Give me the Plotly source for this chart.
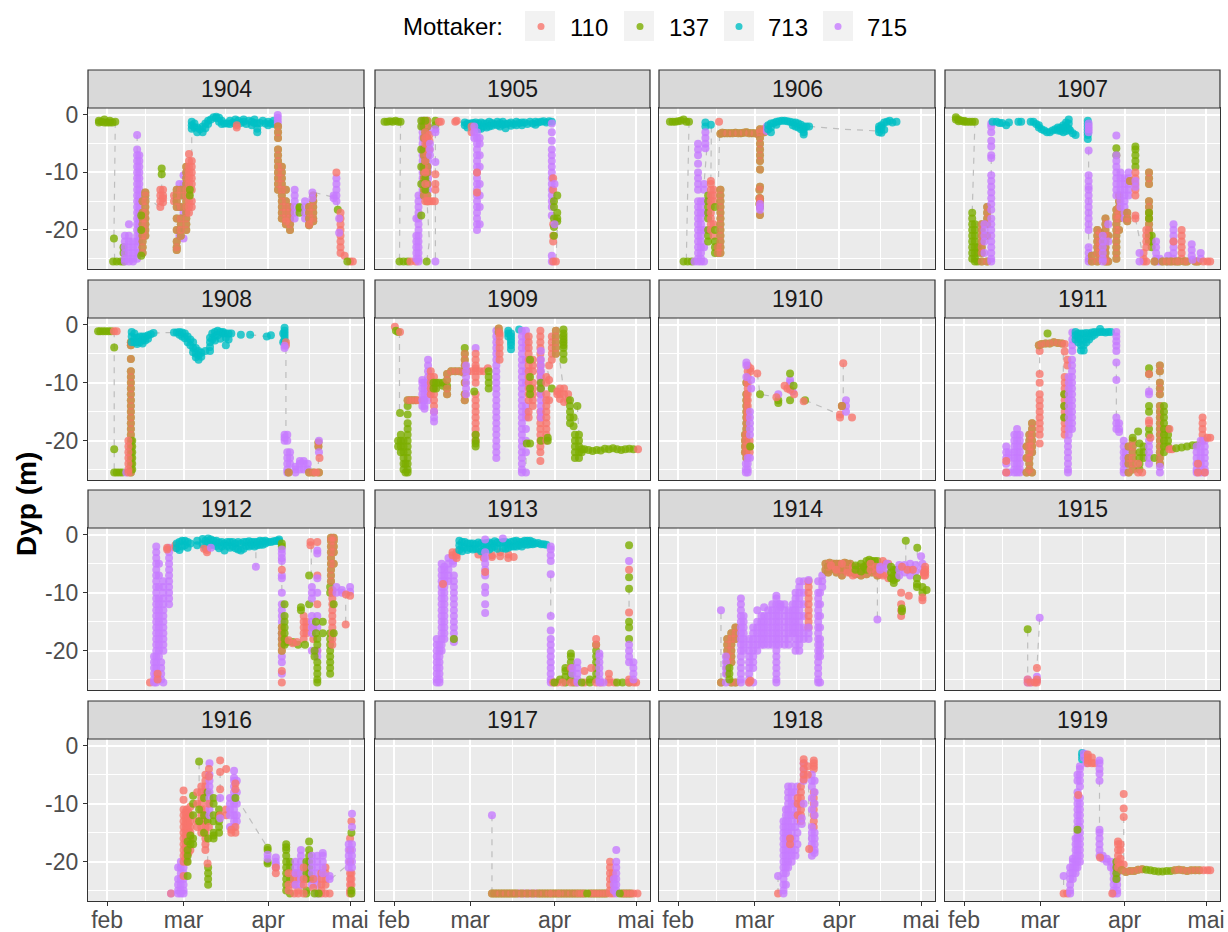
import plotly.graph_objects as go

YEARS = list(range(1904, 1920))
RECEIVERS = ["110", "137", "713", "715"]
COLORS = {"110": "#F8766D", "137": "#7CAE00", "713": "#00BFC4", "715": "#C77CFF"}
MONTH_TICKS = [0, 28, 59, 89]
MONTH_LABELS = ["feb", "mar", "apr", "mai"]
MONTH_MINOR = [14, 43.5, 74]
DEPTH_TICKS = [0, -10, -20]
DEPTH_MINOR = [-5, -15, -25]

# (receiver(s), [(day after 1 Feb, [depths]), ...])
P1904 = [
 ("137", [(-3,[-1.0,-1.3]),(-2,[-1.2]),(-1,[-0.8,-1.3]),(0,[-1.3]),(1,[-1.0,-1.3]),(2,[-1.3]),(3,[-1.2]),(2.5,[-21.5]),(2.2,[-25.5]),(3.5,[-25.5]),(5,[-25.5]),(6,[-23,-24,-25.5])]),
 ("715", [(6.5,[-21,-22,-23,-24,-25,-25.5]),(8,[-19,-21,-22,-23,-24,-25,-25.5]),(9.5,[-22,-23,-24,-25,-25.5])]),
 ("715", [(11,[-3.5,-6,-7,-8,-9,-10,-11,-12,-13,-14,-15,-16,-17,-18,-19,-20,-21,-22,-23,-24,-25]),(11.8,[-7,-8,-9,-10,-11,-12,-13,-14,-15,-16,-17,-18,-19,-20,-21,-22,-24])]),
 ("137+110", [(13,[-15,-17,-18,-19,-20,-21,-22,-23,-24]),(14,[-13.5,-14,-15,-16,-17,-18,-19,-20,-21])]),
 ("137", [(12.5,[-17.5,-20,-24.5])]),
 ("137", [(20,[-9.3,-10.3])]),
 ("110", [(19.5,[-13,-14,-15,-16]),(20.5,[-13,-14,-14.5,-15.2]),(24.5,[-14,-15])]),
 ("715", [(26.5,[-12,-13,-16,-20,-21]),(28,[-10.5,-12,-14,-17,-21.5])]),
 ("137+110", [(25.5,[-13,-14,-15,-16,-18,-20,-22,-23,-23.5]),(27,[-13,-14,-16,-18,-19,-20,-21]),(29,[-9,-10,-11,-12,-13,-14,-15,-16,-17,-18,-19,-20])]),
 ("110", [(30,[-6.8,-8,-9,-10,-11,-12,-13,-14,-15,-16,-17]),(31,[-8,-9,-10,-11,-12,-13,-15,-16])]),
 ("137", [(30.3,[-13,-14])]),
 ("713", [(31,[-1.2,-1.8,-2.4]),(32,[-1.5,-2.2]),(33,[-2.2,-3.0]),(34,[-2.5]),(35,[-2,-3]),(36,[-1.5,-2.3]),(37,[-1,-1.6]),(38,[-0.8]),(39,[-0.4]),(40,[-0.3,-0.6]),(41,[-0.5,-1.2]),(42,[-1,-1.6]),(43,[-1.5]),(44,[-1.5]),(45,[-1.6,-1.0]),(46,[-1.3]),(47,[-0.8,-1.5]),(48,[-1]),(49,[-1.4]),(50,[-1.2,-0.8]),(51,[-1.6]),(52,[-1]),(53,[-1.2,-1.8]),(54,[-0.8,-1.4]),(55,[-1.5,-2.4,-3]),(56,[-1.4]),(57,[-1]),(58,[-1.5]),(59,[-1.2,-1.8]),(60,[-1.5]),(61,[-1.0,-1.6])]),
 ("110", [(47.5,[-1.8,-2.2])]),
 ("715", [(62.5,[0,-0.5,-1,-1.5])]),
 ("137+110", [(62.6,[-2,-3,-4,-6,-7,-8,-9,-10,-11,-12,-13]),(64,[-9,-10,-11,-12,-13,-14,-15,-16,-17,-18]),(65.5,[-13,-15,-16,-17,-18,-18.5,-19]),(67,[-16,-17,-18,-19,-20])]),
 ("715", [(68.7,[-13,-14,-15,-16,-17,-18])]),
 ("137", [(70.5,[-16,-17,-16.2])]),
 ("715", [(72.5,[-15,-16,-17,-18])]),
 ("137+110", [(74,[-16,-17,-18,-19,-19.2]),(75.5,[-14,-15,-16,-17,-18,-18.5])]),
 ("715", [(75.2,[-13.5,-14.5])]),
 ("715", [(83,[-14,-14.5]),(84,[-11,-12,-13,-14,-15])]),
 ("110", [(84,[-10])]),
 ("137", [(84.5,[-16.5])]),
 ("110", [(85.5,[-17,-18,-19,-20,-21,-22,-23,-24])]),
 ("715", [(85,[-18,-20.5])]),
 ("110", [(87,[-24.5]),(89,[-25.5]),(90,[-25.5])]),
 ("137", [(88,[-25.5])]),
]
L1904 = [(3,-1.2),(2.5,-21.5),(2.8,-25.5),None,(11,-3.5),(11,-8),None,(14,-14),(19,-16),None,(20,-10),(20,-13),None,(31,-7),(31,-2),None,(76,-13.5),(82,-14.2),None,(84.5,-16),(84,-14)]

P1905 = [
 ("137", [(-3.5,[-1.2]),(-2.5,[-1.2]),(-1.5,[-1.1]),(-0.5,[-1.2]),(0.5,[-1.0]),(1.5,[-1.2]),(2.4,[-1.2]),(2,[-25.5]),(3.5,[-25.5]),(5,[-25.5]),(12,[-25.5])]),
 ("110", [(6,[-25.5]),(8,[-25.5])]),
 ("715", [(9,[-14,-15,-16,-17,-18,-19,-20,-21,-22,-23,-24,-25,-25.5]),(8.2,[-18,-21,-22,-23,-24,-25])]),
 ("715", [(10.5,[-1,-2,-3,-4,-5,-6,-7,-8,-9,-10,-11,-12,-13,-14]),(12.5,[-2,-3,-5,-6,-7,-8,-9,-10,-11,-12,-13])]),
 ("137+110", [(11,[-1,-2,-4,-6,-7,-9,-10,-11,-13,-14]),(12.2,[-1,-2,-4,-5,-7,-9,-10,-12,-14,-15])]),
 ("137", [(10,[-1,-2,-6,-9,-12,-17.5]),(11.5,[-1,-3,-8,-11,-13])]),
 ("110", [(11.5,[-3,-4,-5,-8,-10,-12,-15]),(13,[-3.5,-4.5,-6,-15]),(14,[-15]),(12.5,[-15])]),
 ("715", [(13.2,[-5,-6,-7])]),
 ("137", [(15.2,[-1,-1.8])]),
 ("110", [(15,[-15]),(15.2,[-10.3,-12,-13])]),
 ("715", [(15.2,[-2.5,-3,-8.2,-25.5])]),
 ("110", [(16.5,[-1.2]),(17.2,[-1.2]),(22.5,[-1.2]),(23,[-1.0])]),
 ("713", [(26,[-1.3,-1.8]),(27,[-1.5,-2.2]),(28,[-1.5]),(29,[-1.4]),(30,[-1.3,-2]),(31,[-1.5,-2.5]),(32,[-1.3,-2.4]),(33,[-1.5,-2]),(34,[-1.5,-2.2]),(35,[-1.2,-2]),(36,[-1.4,-1.9]),(37,[-1.6]),(38,[-1.2,-1.8]),(39,[-1.4,-2]),(40,[-1.2,-1.7]),(41,[-1.6,-2.3]),(42,[-1.5]),(43,[-1.3,-1.9]),(44,[-1.6]),(45,[-1.2,-1.8]),(46,[-1.4]),(47,[-1.3,-1.8]),(48,[-1.3]),(49,[-1.6]),(50,[-1.2]),(51,[-1.5]),(52,[-1.2,-1.7]),(53,[-1.3]),(54,[-1.2]),(55,[-1.1]),(56,[-1.3]),(57,[-1.1]),(58,[-1.2])]),
 ("110", [(28.5,[-2,-3])]),
 ("715", [(29.5,[-2,-3,-4]),(30.5,[-3,-4,-5,-6,-7,-8,-9,-10,-11,-12,-13,-14,-15,-16,-17,-18,-19,-20]),(31.5,[-4,-5,-7,-9,-12,-14,-16,-19])]),
 ("110", [(30.5,[-10,-13.5])]),
 ("715", [(58,[-1.5,-3,-4.5,-6,-7,-8,-9,-10,-11,-12,-13,-14,-15,-16,-17.5,-24.5,-25.5])]),
 ("110", [(58.5,[-11,-13,-19,-21,-22,-25.5]),(59.5,[-25.5])]),
 ("137", [(58.8,[-15,-16,-18,-19.5,-21]),(60,[-14,-17,-18,-18.5])]),
 ("715", [(59,[-12,-19])]),
]
L1905 = [(2.4,-1.2),(2,-25.5),None,(15.2,-3),(15.2,-25.5),None,(12,-14),(13,-22),(12,-25.5),None,(60,-20),(59.5,-25.5),None,(24,-1.2),(26,-1.3)]

P1906 = [
 ("137", [(-3,[-1.2]),(-2,[-1.2]),(-1,[-1.2]),(0,[-1.1]),(1,[-1.0]),(2,[-0.8]),(3,[-1.2]),(4,[-1.2]),(2,[-25.5]),(3.5,[-25.5]),(5,[-25.5])]),
 ("715", [(6,[-25.5]),(7.3,[-5,-6,-7,-8.5,-10,-11,-12,-13,-15,-16,-17,-18,-19,-20,-21,-22,-23,-24,-25,-25.5]),(8.4,[-15,-16,-17,-18,-19,-20,-21,-22,-23,-24,-25,-25.5]),(9.5,[-12,-13,-15,-17,-20,-23,-25.5])]),
 ("713", [(10,[-1.3,-2]),(12,[-1.7])]),
 ("715", [(10,[-3,-4,-5,-5.8])]),
 ("137", [(11,[-14,-15,-16,-17,-18,-20,-21,-22])]),
 ("110", [(12,[-11.5,-12,-13,-14,-15,-16,-17,-18,-19,-20]),(13,[-13,-14,-15,-19,-21])]),
 ("137", [(13.5,[-16,-20,-22,-23,-24])]),
 ("110", [(15,[-1.2])]),
 ("137+110", [(15.5,[-3.3,-13,-14,-15,-16,-17,-18,-19,-20,-21,-22,-23,-24]),(14.5,[-23,-24]),(17,[-3.2]),(19,[-3.2]),(21,[-3.1]),(23,[-3.2]),(25,[-3.0]),(27,[-3.2]),(29,[-3.3])]),
 ("137+110", [(16.2,[-3.1]),(18,[-3.2]),(20,[-3.2]),(22,[-3.2]),(24,[-3.1]),(26,[-3.2]),(28,[-3.2]),(30,[-2.5,-3,-4,-5,-6,-7,-8,-9.5,-12.5,-14.5,-15,-16,-17.4]),(29.8,[-13,-14.5,-15.5]),(31.5,[-2.5,-3])]),
 ("715", [(30,[-15.5,-16,-16.5]),(32.5,[-2,-2.8])]),
 ("713", [(33,[-1.8,-2.5]),(34,[-1.5,-2.2,-3]),(35,[-1.4]),(36,[-1.2,-1.7]),(37,[-1.1]),(38,[-1]),(39,[-1]),(40,[-1.1]),(41,[-1.2]),(42,[-1.3,-1.8]),(43,[-1.3,-2]),(44,[-1.5,-2.2]),(45,[-1.7,-2.5]),(46,[-2,-2.5,-3,-3.4]),(47,[-2]),(48,[-2])]),
 ("713", [(73.6,[-2,-2.5,-3]),(74.5,[-1.8,-2.2,-3.1]),(75.5,[-1.3,-2.6]),(76.5,[-1.2]),(77.5,[-1]),(78.5,[-1.3]),(80,[-1.2])]),
]
L1906 = [(4,-1.2),(3,-25.5),None,(48,-2),(61,-2.5),(73.6,-2.8),None,(10.5,-6),(9.5,-12),None,(12.2,-2),(12,-11),None,(15.2,-3.5),(14.8,-11)]

P1907 = [
 ("137", [(-3,[-0.4,-0.8]),(-2,[-0.8,-1.1]),(-1,[-1.0]),(0,[-1.0,-1.2]),(1,[-1.2]),(2,[-1.2]),(3,[-1.2]),(4,[-1.2])]),
 ("137", [(3,[-17,-18,-19,-20,-21,-22,-23,-24,-25]),(4,[-19,-20,-21,-22,-23,-24,-25,-25.5]),(5,[-23,-24,-25.5])]),
 ("137+110", [(6.5,[-19,-20,-21,-22,-23,-24,-25.5]),(8.5,[-16,-17,-18,-19,-21,-25.5])]),
 ("715", [(7.5,[-19,-20,-21,-22,-24])]),
 ("715", [(10,[-1.5,-2,-3,-4.5,-5.5,-7,-7.5,-10.5,-11.5,-12.5,-13.5,-14.5,-15.5,-16.5,-18,-19,-20,-21,-22,-23,-24,-25,-25.5])]),
 ("713", [(10.5,[-1.2]),(12,[-1.2]),(13,[-1.4]),(14,[-1.4]),(15.5,[-1.8]),(16.5,[-1.3]),(20,[-1.2]),(21,[-1.2]),(24.5,[-1.2]),(25.5,[-1.2]),(26.5,[-1.6]),(27.5,[-1.8,-2.2]),(28.5,[-2.5]),(29.5,[-2.7]),(30.5,[-3]),(31.5,[-3]),(32.5,[-2.7]),(33.5,[-2.5]),(34.5,[-2.2,-2.7]),(35.5,[-2.2,-2.8]),(36.5,[-1.8,-2.3,-3]),(37.5,[-1.3,-2,-2.8]),(38.5,[-0.8,-1.5,-2.4]),(39,[-2.7]),(40,[-3.2]),(41,[-3.5])]),
 ("713", [(45.5,[-1,-1.5,-2,-2.5,-3,-3.5,-4.2])]),
 ("715", [(45.8,[-1.5,-2,-2.5,-3,-6.2,-10.5,-11.5,-12.5,-13,-14,-15,-16,-17,-18,-19,-20,-23,-24,-25,-25.5])]),
 ("137+110", [(47,[-25.5,-24.5]),(49,[-25.5,-20,-21,-22,-23,-24]),(50,[-20.5,-22,-23,-24,-25])]),
 ("137+110", [(52,[-18,-19,-20,-21,-22,-23,-24,-25,-25.5]),(53,[-21,-25.5])]),
 ("715", [(51,[-21,-22,-23,-24,-25,-25.5]),(53,[-19,-22])]),
 ("137+110", [(56,[-16.5,-17.5,-18,-19,-20,-21,-22,-23,-24,-25]),(57,[-14,-15,-16,-17,-18,-20])]),
 ("137", [(56,[-5.8,-7])]),
 ("715", [(56,[-3.6,-7,-8,-9,-10,-11,-12,-13,-14]),(57.5,[-10,-11,-12,-13,-14,-15,-16]),(59,[-11,-12,-13,-14,-15,-16,-17,-18]),(60.5,[-10,-11,-12,-13,-14])]),
 ("137+110", [(60,[-17,-18,-18.5]),(61,[-11.5])]),
 ("137", [(63,[-5.5,-6,-7,-8,-9])]),
 ("110", [(63,[-10,-11,-12,-13,-14,-17.5,-18])]),
 ("715", [(63,[-11.5,-12.5])]),
 ("137+110", [(68,[-10,-11,-12,-15,-16,-17,-18,-19,-20,-21,-22])]),
 ("137", [(68,[-17,-18,-21,-22]),(69,[-21,-22,-23])]),
 ("110", [(66,[-24,-25,-25.5]),(67,[-20,-21,-22,-23,-25.5])]),
 ("715", [(64.5,[-24,-25.5])]),
 ("715", [(70.6,[-22,-23,-24,-25,-25.5]),(72,[-25,-25.5]),(75,[-25.5,-24.5]),(77,[-19,-20,-21,-22,-23,-24,-25])]),
 ("110", [(80,[-20,-21,-22,-23,-24,-25]),(77,[-22,-25.5])]),
 ("137+110", [(70,[-25.5]),(73,[-25.5]),(74.5,[-25.5]),(76,[-25.5]),(78,[-25.5]),(79,[-25.5]),(81,[-25.5]),(82,[-25.5]),(85,[-25.5]),(86,[-25.5])]),
 ("715", [(83.7,[-22.5,-23.5,-24.5]),(87,[-24,-25]),(84,[-25.2])]),
 ("110", [(88,[-25.5]),(89.5,[-25.5]),(90.5,[-25.5])]),
]
L1907 = [(4,-1.2),(3,-17),None,(10,-7.5),(10,-10.5),None,(45.8,-6),(45.8,-23),None,(63,-18),(66,-25)]

P1908 = [
 ("137", [(-3.3,[-1.1]),(-2.5,[-1.1]),(-1.5,[-1.1]),(-0.5,[-1.1]),(0.5,[-1.1]),(1.5,[-1.1]),(2.6,[-3.9,-21.5,-25.5]),(3.5,[-25.5]),(4.5,[-25.5]),(5.5,[-25.5])]),
 ("110", [(2.5,[-1.1]),(3.5,[-1.1])]),
 ("715", [(7,[-25.5])]),
 ("137+110", [(8.7,[-3,-3.5,-5.9,-8,-9,-10,-11,-12,-13,-14,-15,-16,-17,-18,-19,-20,-21,-22,-23,-24,-25,-25.5])]),
 ("137", [(9.2,[-20,-21,-22,-23,-24,-25])]),
 ("110", [(7.8,[-20,-21,-22,-23,-24,-25,-25.5])]),
 ("713", [(9,[-1.2,-2,-3]),(10,[-1.5,-2.3,-3]),(11,[-2.2,-3,-3.3]),(12,[-2,-3]),(13,[-2,-2.6,-3.2]),(14,[-2,-2.7]),(15,[-1.8,-2.4]),(16,[-1.6]),(17,[-1.4])]),
 ("713", [(24.5,[-1.3]),(25.5,[-1.3]),(26.5,[-1.2,-1.7]),(27.5,[-1.3,-2]),(28.5,[-1.5,-2.3]),(29.5,[-2,-3]),(30.5,[-2.5,-3.5]),(31.5,[-3,-4,-4.7]),(32.5,[-4,-5,-5.6]),(33.5,[-4.5,-5.2,-6]),(34.5,[-4.8,-5.5]),(36,[-4.5]),(37.7,[-2.2,-3,-3.8,-4.5]),(38.5,[-1.5,-2.5]),(39.5,[-1.2,-2,-2.7]),(40.5,[-1,-1.8]),(41.5,[-1.2,-2.4]),(42.5,[-1.5,-1.2]),(43.5,[-1.5,-2.2,-3.5]),(44.5,[-1.5,-2.5]),(45.5,[-1.5]),(49,[-1.7]),(52.4,[-1.7]),(58.5,[-2]),(60,[-1.8])]),
 ("713", [(64.5,[-1.5,-3]),(65,[-0.5,-1,-1.5,-2,-2.5,-3])]),
 ("110", [(65.5,[-3,-3.5])]),
 ("715", [(65,[-3.6,-4])]),
 ("715", [(65,[-19,-19.5,-20]),(66,[-19,-20,-22,-23,-24,-25,-25.5]),(67,[-22,-23,-24]),(69,[-24.5,-25,-25.5]),(70.6,[-23.5,-24,-25]),(72,[-23.5,-24,-25]),(73.5,[-24,-25])]),
 ("137+110", [(66.5,[-25.5]),(74,[-25.5]),(75.5,[-25.5]),(77.6,[-25.5]),(77.4,[-20.3,-21])]),
 ("715", [(77.6,[-20,-22])]),
 ("110", [(76.5,[-25.5]),(77.8,[-23])]),
]
L1908 = [(2.6,-1.1),(2.6,-21.5),(2.6,-25.5),None,(17,-1.4),(24.5,-1.3),None,(52.4,-1.7),(58.5,-2),None,(65.5,-4),(65.5,-19),None,(77.6,-23),(77,-25.5)]

P1909 = [
 ("110", [(0.3,[-0.3])]),
 ("137", [(0.7,[-1]),(1.5,[-1.2])]),
 ("110", [(2.2,[-1.2])]),
 ("137", [(2.2,[-15.2]),(5,[-14,-15.5])]),
 ("137", [(1.5,[-20,-21]),(2.5,[-19,-20,-21,-22]),(3.5,[-20,-21,-22,-23,-24,-25]),(5,[-17,-18,-19,-20,-21,-22,-23,-24,-25,-25.5]),(4.2,[-24,-25.5])]),
 ("137+110", [(5,[-13]),(6,[-13]),(7,[-13]),(8,[-13])]),
 ("110", [(9,[-13]),(11,[-13])]),
 ("715", [(10.4,[-9.5,-10,-11,-12,-13,-14]),(11.2,[-10,-11,-12,-13,-14,-14.5])]),
 ("715", [(12.5,[-6,-7,-8,-9,-10,-11,-12,-13])]),
 ("110", [(13.5,[-8,-9,-10,-11,-12]),(14.7,[-9,-10,-11,-12,-13,-14,-15])]),
 ("715", [(14.7,[-15,-16,-16.7])]),
 ("137", [(14.5,[-10,-11]),(15.5,[-10,-11]),(16.5,[-10]),(18,[-10,-10.5]),(19.5,[-10.5])]),
 ("137+110", [(19.5,[-8.5,-9.5,-11,-12]),(21,[-8]),(22.5,[-8]),(24,[-8]),(25.5,[-8.2])]),
 ("110", [(27,[-8]),(28.5,[-8]),(30,[-7.5]),(31.5,[-8]),(33,[-8]),(34.5,[-7.5])]),
 ("137", [(26,[-4])]),
 ("137+110", [(26,[-5,-6,-7,-10,-12,-13])]),
 ("715", [(26.5,[-7,-8,-9,-10,-11,-12]),(30,[-4])]),
 ("110", [(30,[-5,-6,-7,-8,-9,-10,-12,-13,-14,-15,-16,-17,-18,-19,-20])]),
 ("137", [(30,[-19,-20,-20.5,-21]),(29.5,[-11.5]),(34.8,[-8,-9,-10,-11])]),
 ("715", [(37.6,[-1,-2,-3,-4,-5,-6,-7,-8,-9,-10,-11,-12,-13,-14,-15,-16,-17,-18,-19,-20,-21,-22,-23])]),
 ("137+110", [(38.5,[-0.6,-1.2])]),
 ("110", [(38.8,[-1.5,-2,-3,-4,-5,-6])]),
 ("713", [(42,[-1,-1.5,-2]),(43,[-1.5,-2,-2.5,-3,-3.5,-4.2]),(46,[-0.8])]),
 ("715", [(47,[-1,-2,-3,-4,-5,-6,-7,-8,-9,-10,-11,-12,-13,-14,-15,-16,-17,-18,-19,-20,-21,-22,-23,-24,-25,-25.5]),(48.5,[-1,-2,-3,-4,-6,-8,-10,-14,-15,-16,-18,-20,-22,-25.5])]),
 ("110", [(49.5,[-2,-3,-4,-5,-6,-7,-8,-9,-10,-11,-12,-13,-15,-16]),(51,[-6,-7,-8,-10,-11,-12,-13,-14])]),
 ("137", [(50,[-6,-9,-11,-12,-20.5]),(48.8,[-20.5])]),
 ("110", [(53.8,[-1,-2,-3,-4,-5,-6,-7,-8,-9,-10,-11,-12,-15,-16,-17,-18,-19,-20,-21,-22,-23.5])]),
 ("715", [(54,[-4.5,-6,-7,-8,-9,-10,-11,-12,-13,-14,-15,-16])]),
 ("137", [(54,[-10,-11,-20])]),
 ("110", [(56,[-9,-10,-12,-13,-14,-15,-16,-17,-18,-19,-20]),(57,[-7,-9.5,-13]),(58,[-2,-3,-4,-5,-6])]),
 ("137", [(56.5,[-19.5,-20]),(58,[-11])]),
 ("137+110", [(59.5,[-1,-2,-3,-4,-5])]),
 ("137", [(62.3,[-0.8,-1.5,-2,-2.5,-3,-3.5,-4,-5,-6])]),
 ("110", [(60,[-11.5,-12]),(61,[-11,-12,-12.8]),(62.5,[-11,-12,-13.3]),(64,[-12,-13])]),
 ("137", [(64.7,[-13,-14,-15,-16,-17]),(67.4,[-14]),(66,[-16,-17.5]),(66.5,[-19,-20,-21,-22,-23]),(68,[-19,-20,-21,-22,-23])]),
 ("137", [(69,[-21.5,-22]),(70,[-21.5]),(71.5,[-21.6]),(73,[-21.8]),(74.5,[-21.6]),(76,[-21.7]),(77.5,[-21.4]),(79,[-21.5]),(80.5,[-21.3]),(82,[-21.5]),(83.5,[-21.6]),(85,[-21.5]),(86.5,[-21.4]),(88,[-21.5])]),
 ("110", [(89.7,[-21.5])]),
]
L1909 = [(2,-1.2),(2,-15),None,(56.5,-8),(57.5,-10),None,(61,-6.5),(62,-10),None,(48.5,-23),(48.5,-25.5),None,(67.4,-14),(68,-19)]

P1910 = [
 ("137+110", [(25,[-10,-12,-13,-14,-15,-16,-17,-18,-19,-20,-21,-22,-23]),(24.5,[-19,-20,-21,-22])]),
 ("110", [(25.5,[-7,-8,-9,-10,-11,-12,-13,-14,-15,-16]),(26.5,[-7.5,-8]),(26.2,[-20,-21,-22])]),
 ("715", [(25,[-6.5,-7,-9]),(26.8,[-9.5,-11]),(25.5,[-23,-24,-25,-25.5]),(24.8,[-24,-25,-25.5]),(26.3,[-15,-16,-17,-18,-19,-23])]),
 ("137", [(26.4,[-21])]),
 ("110", [(29,[-8.4])]),
 ("137", [(30,[-12]),(36.7,[-13,-13.5]),(41,[-13]),(46.5,[-13])]),
 ("715", [(36.7,[-12]),(41,[-9.5,-10]),(42,[-11.5])]),
 ("110", [(36,[-12.5]),(39,[-10.5]),(40,[-11]),(41,[-11.2]),(42.5,[-12]),(46,[-13.2])]),
 ("137", [(41,[-8.4]),(42.3,[-10.5])]),
 ("110", [(59.3,[-15.5,-16]),(60,[-14])]),
 ("110", [(60.5,[-6.6])]),
 ("715", [(61.5,[-13,-14,-15])]),
 ("137+110", [(60,[-14])]),
 ("110", [(63.7,[-16])]),
]
L1910 = [(29,-8.4),(30,-12),(36.7,-12.5),None,(46.5,-13),(59.3,-15.5),None,(60.5,-6.6),(60.5,-14)]

P1911 = [
 ("715", [(15.5,[-21,-22,-23,-24,-25.5]),(16.5,[-22,-23,-25.5]),(18.5,[-19,-20,-21,-22,-23,-24,-25,-25.5]),(19.5,[-18,-19,-20,-21,-22,-23,-24,-25,-25.5]),(20.5,[-19,-20,-21,-22,-23,-24,-25,-25.5])]),
 ("110", [(15.5,[-23.5,-25.5])]),
 ("137+110", [(23,[-21,-23,-25.5]),(24,[-19,-20,-21,-22,-23,-24,-25]),(25,[-17,-18,-19,-20,-21,-22,-25.5])]),
 ("110", [(27.8,[-4.5,-8.5,-10,-12,-13,-14,-15,-16,-17,-18,-19,-20.5])]),
 ("137+110", [(27.5,[-3.5]),(28.5,[-3.3]),(30,[-3.2]),(31.5,[-3.2]),(33,[-3]),(34.5,[-3.1]),(36,[-3.2])]),
 ("137", [(30.7,[-1.5])]),
 ("110", [(37,[-3.3,-4.6]),(38,[-6,-7]),(37,[-9,-10,-11,-12,-13,-14,-15,-16,-17,-18,-19])]),
 ("137", [(36.8,[-12,-14,-16])]),
 ("715", [(39.7,[-6,-7,-8,-9,-10,-11,-12,-13,-14,-15,-16,-17,-18]),(38.5,[-9,-10,-11,-12,-13,-14,-15,-16,-17,-18,-19]),(38.2,[-20,-21,-22,-23,-24,-25,-25.5])]),
 ("715", [(39.8,[-1.3,-2.5,-3.5,-4.5])]),
 ("713", [(41,[-1.2,-1.8,-2.5]),(42,[-1.5,-2.2,-3]),(43,[-1.5,-2.5,-3.5,-4.4]),(44,[-1.5,-2.5,-3.5,-4.4]),(45,[-1.4,-2.2,-3]),(46,[-1.5,-2.5]),(47,[-1.3,-2]),(48,[-1.2,-1.7]),(49,[-1.3]),(50,[-1.2,-0.7]),(51,[-1.2]),(52,[-1.3]),(53,[-1.2]),(54,[-1.2])]),
 ("715", [(56,[-1.2,-2,-2.8,-3.6,-4.5,-6.5,-9.5,-16,-17,-18]),(57,[-17,-18,-18.5])]),
 ("715", [(58.7,[-20,-21,-22,-23,-24,-25,-25.5]),(59.5,[-22,-23,-24])]),
 ("137+110", [(60.5,[-21,-23,-24,-25.5]),(62,[-20,-21,-22,-23,-24,-25])]),
 ("137", [(62,[-19.5]),(64,[-18.4]),(64.5,[-20.5,-22,-23,-24,-25]),(66,[-21,-22,-23])]),
 ("110", [(64,[-24,-25.5]),(65.5,[-25.5])]),
 ("715", [(68,[-11.5,-12,-20,-21,-22,-23,-24])]),
 ("137", [(68,[-7.5,-8.5,-14,-15,-18,-19])]),
 ("110", [(68,[-16.5,-17,-8.5]),(68.5,[-19.5])]),
 ("137", [(70,[-23])]),
 ("137+110", [(72,[-7,-8,-10,-11,-12,-14,-15,-16,-17,-18,-19,-20,-21,-22,-23,-24])]),
 ("715", [(72,[-24.5,-25.5])]),
 ("137", [(73.5,[-14,-15,-16,-17,-18,-19,-20,-21,-22]),(75,[-18,-19,-20,-21])]),
 ("110", [(75.5,[-18,-21.5]),(76.5,[-21.5])]),
 ("137", [(78,[-21.3]),(80,[-21.2]),(82,[-21]),(84,[-20.8]),(85.5,[-20.8])]),
 ("110", [(87.7,[-16,-17,-18,-19,-20])]),
 ("715", [(85.5,[-21,-22,-23,-24,-25,-25.5]),(87,[-20,-21,-22,-23,-24,-25,-25.5]),(88.5,[-20,-21,-22,-23,-24,-25,-25.5])]),
 ("110", [(86,[-24,-25.5]),(88.5,[-25.5]),(89.5,[-19.5]),(90.5,[-19.5])]),
]
L1911 = [(27.8,-3.5),(27.8,-8.5),None,(36.5,-5),(36.5,-9),None,(56,-6.5),(56,-16),None,(68,-8.5),(68,-11.5),None,(72,-8),(72,-12)]

P1912 = [
 ("110", [(15.7,[-25.5])]),
 ("715", [(18,[-2,-3,-4,-5,-6,-7,-8,-9,-10,-11,-12,-13,-14,-15,-16,-17,-18,-19,-20,-21,-22,-23,-24,-25,-25.5]),(17.2,[-21,-22,-23,-24,-25,-25.5]),(19,[-5,-7,-9,-11,-12,-13,-14,-15,-16,-17,-18,-19,-20,-21]),(20.6,[-8,-9,-10,-11,-12,-13,-14,-15,-16,-17,-18,-19,-20,-25.5]),(19.8,[-22,-23,-24,-25])]),
 ("110", [(18.5,[-24,-25])]),
 ("715", [(22.7,[-2.2,-3,-4,-5,-6,-7,-8,-9,-10,-11,-12])]),
 ("110", [(22,[-2.2,-2.5])]),
 ("110", [(25,[-1.8,-2.2])]),
 ("713", [(25.5,[-1.5,-2.3]),(26.5,[-1.2,-2.6]),(27.5,[-1,-2]),(28.5,[-1,-1.8]),(29.5,[-1.2,-2.2]),(30.5,[-1.5]),(33,[-1,-1.8]),(35,[-0.7,-1.6]),(36,[-1,-2.2]),(37,[-0.6,-1.4]),(38,[-0.8,-1.8]),(39,[-1,-1.6]),(40,[-1,-1.9]),(41,[-1.3,-2.3]),(42,[-1.2,-2]),(43,[-1.5,-2.7]),(44,[-1.2,-1.9]),(45,[-1.2,-2.2]),(46,[-1.2,-2]),(47,[-1.5,-2.3]),(48,[-1.2,-2.5]),(49,[-1.5,-2.7]),(50,[-1.2,-2.4]),(51,[-1.2,-1.9]),(52,[-1.1,-2]),(53,[-1.2,-1.8]),(54,[-1.2,-2]),(55,[-1.2,-1.8]),(56,[-1,-1.7]),(57,[-1.1,-1.7]),(58,[-1,-1.5]),(59,[-1.2]),(60,[-1.2]),(61,[-1.1]),(62,[-1]),(63,[-0.8,-1.1])]),
 ("110", [(36.6,[-2.6,-3]),(35.5,[-2.4])]),
 ("715", [(54.5,[-5.5]),(38,[-2.2])]),
 ("137", [(64,[-1.5,-2])]),
 ("715", [(64,[-2.5,-3.2,-4,-4.5,-7,-7.5,-10,-12,-13,-14,-15,-17,-18,-21,-22,-24])]),
 ("110", [(64,[-6,-23.5,-25.5])]),
 ("137+110", [(64,[-16,-17,-18,-19,-20])]),
 ("137", [(65,[-12,-14,-15,-16,-17,-18,-19]),(66,[-18.5]),(68,[-18.5]),(70,[-19])]),
 ("110", [(66.5,[-18.2]),(68,[-18.7]),(69.5,[-18.5])]),
 ("110", [(72,[-14,-15,-16,-17,-18]),(73,[-15,-16,-17])]),
 ("137", [(71,[-13,-12.5]),(72.5,[-19]),(74,[-7,-12])]),
 ("110", [(74.5,[-1.2,-1.8]),(75.5,[-16,-18])]),
 ("715", [(75,[-9,-10,-11,-14,-15,-16,-17,-20])]),
 ("110", [(77,[-1.2,-7,-12,-20])]),
 ("715", [(77,[-2.7,-3.2,-7.5,-10,-14,-16,-20,-21])]),
 ("137", [(77,[-18,-19,-22,-23,-24,-25,-25.5]),(76.5,[-15,-17]),(79,[-15,-17]),(76,[-20,-21])]),
 ("137", [(81.7,[-9,-10,-17,-18,-19,-20,-21,-22,-23,-24])]),
 ("137+110", [(82,[-0.5,-1,-2,-3,-4,-5,-6,-7,-8]),(83,[-0.5,-1,-2,-3,-5])]),
 ("110", [(82.5,[-9.5,-10,-11,-12,-13,-14,-15,-16,-17,-18,-19])]),
 ("137", [(83,[-12,-17])]),
 ("715", [(84,[-9,-10]),(86,[-9.5,-10]),(89,[-9,-9.8])]),
 ("110", [(87.4,[-15.5]),(87.5,[-10.3]),(89,[-10.5])]),
]
L1912 = [(54.5,-3),(54.5,-5.5),None,(74.8,-2),(74.8,-7),None,(87.4,-10),(87.4,-15.5),None,(64,-4.5),(64,-10)]

P1913 = [
 ("715", [(15.7,[-18,-19,-20,-21,-22,-23,-24,-25,-25.5]),(16.7,[-19,-20,-21,-22,-23,-24,-25,-25.5]),(17.5,[-5,-6,-7,-8,-9,-10,-11,-12,-13,-14,-15,-16,-17,-18,-19,-20]),(18.5,[-5.5,-6,-7,-8,-9,-10,-11,-12,-13,-14,-15,-16,-17,-18]),(20,[-4,-5,-6,-7,-8])]),
 ("110", [(18,[-8.5])]),
 ("715", [(22,[-7,-8,-9,-10,-11,-12,-13,-14,-15,-16,-17,-18,-18.5]),(21.7,[-4,-4.5,-5])]),
 ("110", [(21.5,[-3,-3.5])]),
 ("137", [(22,[-18])]),
 ("110", [(23,[-3,-3.5,-4])]),
 ("110", [(33,[-3,-4]),(31,[-3.4]),(36,[-3.5,-3.8]),(39,[-3,-3.7]),(42,[-3.4,-4]),(44,[-3.8])]),
 ("713", [(24,[-1,-1.8,-2.6]),(25,[-1.2,-2,-2.8]),(26,[-1.2,-2.2]),(27,[-1.5,-2.6]),(28,[-1.5,-2.3]),(29,[-1.5,-2.5]),(30,[-1.6,-2.4]),(31,[-1.3,-2.4]),(32,[-1.5,-2.8]),(33,[-1.5,-2.5]),(34,[-1.4,-2.4]),(35,[-1.3,-2.5]),(36,[-1.5,-2.2]),(37,[-1.1,-2]),(38,[-1.3,-2.4]),(39,[-1.4]),(40,[-1.2,-2.3]),(41,[-1.2,-2.4]),(42,[-1.5,-2.2]),(43,[-1.2,-2]),(44,[-1.1,-2]),(45,[-1,-2]),(46,[-1.2,-1.8]),(47,[-1.2,-2]),(48,[-1,-1.6]),(49,[-1,-1.7]),(50,[-1,-1.6]),(51,[-1.2,-1.6]),(52,[-1.5]),(53,[-1.4]),(54,[-1.6]),(55,[-1.6]),(56,[-1.7])]),
 ("715", [(33.5,[-0.8,-3,-4,-5,-6,-7,-9,-10,-12,-13.5]),(40,[-0.6])]),
 ("110", [(33.5,[-6.4])]),
 ("715", [(57.6,[-2,-2.5,-3.5,-4.5,-6.8,-14,-16.5,-18,-19,-20,-21,-22,-23,-24,-25,-25.5])]),
 ("110", [(58.5,[-25.5]),(60,[-25.5])]),
 ("137", [(59,[-25.5]),(61,[-25]),(63,[-23,-23.5,-24.5,-25.5]),(65,[-20.5,-21,-22,-23,-24,-25]),(66,[-25.5])]),
 ("110", [(62,[-25.5]),(65,[-23,-25.5]),(67,[-25.5]),(70,[-23.5,-25.5])]),
 ("715", [(67.4,[-22,-23,-24,-25,-25.5]),(65.5,[-23,-24])]),
 ("137", [(69,[-25.5]),(72,[-25,-25.5]),(74.3,[-19,-20,-21,-22,-23,-24,-25])]),
 ("110", [(72.5,[-23]),(74.3,[-18,-19]),(74.3,[-25.5]),(79,[-24,-25,-25.5]),(76,[-25.5]),(81,[-25.5])]),
 ("715", [(75.5,[-20.5,-21,-22,-23,-24,-25,-25.5]),(77,[-25.5])]),
 ("137", [(82,[-25.5]),(84,[-25.5]),(86.4,[-1.8,-7.3,-9.3,-15,-16,-18,-25.5])]),
 ("715", [(86.4,[-4.5,-19,-20,-21,-22])]),
 ("110", [(86.4,[-6,-13.4,-25,-25.5]),(88,[-25.5]),(89,[-25.5])]),
 ("715", [(88,[-22,-23,-24,-25])]),
]
L1913 = [(57.6,-7),(57.6,-14),None,(86.4,-9.3),(86.4,-13.4),None,(33.5,-1),(33.5,-3)]

P1914 = [
 ("715", [(15.7,[-13])]),
 ("137+110", [(15.7,[-25.5]),(18,[-18,-19,-20,-21,-22,-23,-24]),(19.5,[-17,-18,-19,-20,-21,-22,-25.5]),(21,[-16,-17,-18,-25.5])]),
 ("715", [(17.5,[-21,-22,-23,-24,-25.5])]),
 ("137", [(18.8,[-23,-24,-25])]),
 ("715", [(23,[-11,-12,-13,-14,-15,-16,-17,-18,-19,-20,-21,-22,-23,-24,-25,-25.5]),(24,[-14,-15,-16,-17,-18,-19,-20]),(26,[-18,-19,-20,-21,-22,-23,-24,-25,-25.5]),(27.5,[-16,-17,-18,-19,-20,-21,-22,-23,-25.5])]),
 ("110", [(26,[-25.5]),(26.5,[-25.2])]),
 ("715", [(29,[-13,-15,-16,-17,-18,-19,-20]),(30.5,[-14,-15,-16,-17,-18,-19]),(31.5,[-12.5,-14,-15,-16,-17,-18,-19]),(33,[-13,-14,-15,-16,-17,-18,-19]),(34.5,[-12,-13,-14,-15,-16,-17,-18,-19]),(36,[-10.5,-11,-12,-13,-14,-15,-16,-17,-18,-19,-20,-21,-22,-23,-24,-25,-25.5]),(37,[-12,-13,-14,-15,-16,-17,-18,-19])]),
 ("715", [(37.5,[-12,-12.5]),(39,[-12,-13,-14,-15,-16,-17,-18,-19]),(40.5,[-13,-14,-15,-16,-17,-18,-19]),(42,[-12,-13,-14,-15,-16,-17]),(43,[-10,-11,-12,-13,-14,-15,-16,-17,-18,-19,-20]),(44.4,[-8,-9,-10,-11,-12,-13,-14,-15,-16,-17,-18,-19,-20]),(46,[-8,-10,-12,-14,-16,-17,-18])]),
 ("110", [(47.8,[-8,-9,-10,-11,-12,-13,-14,-15,-16])]),
 ("715", [(47.8,[-16,-17,-18,-7.8])]),
 ("715", [(51.3,[-8,-10,-11,-12,-13,-14,-15,-16,-17,-18,-19,-20,-21,-22,-23,-24,-25,-25.5]),(52,[-10,-12,-14,-16,-18,-19,-20,-21,-25.5]),(52.8,[-7,-8,-9])]),
 ("137+110", [(54,[-5,-6]),(55.5,[-4.8,-6]),(57,[-5,-5.8]),(59,[-5,-6]),(61,[-4.8,-6.2]),(63,[-5,-6.5])]),
 ("137+110", [(55,[-5.5,-6.5]),(58,[-5,-6.5]),(60,[-6,-7]),(62,[-5,-6]),(65,[-6.8]),(67,[-5.8,-7]),(69,[-5.3,-6.8]),(71,[-6.5]),(73,[-6.5,-7])]),
 ("110", [(56,[-5.3]),(58,[-6]),(60,[-5]),(62,[-6.5]),(64,[-5.5,-7]),(66,[-5.5,-6.5])]),
 ("137", [(65,[-5.3,-6]),(67,[-5,-6.3]),(68,[-5.5]),(69,[-4.5,-6]),(70,[-4.3,-5.5]),(71,[-4.5,-5.5]),(72,[-4.5,-6.2]),(73,[-4.5,-5.8])]),
 ("110", [(70.5,[-6,-5]),(72.5,[-5.5,-6.5]),(74,[-6,-6.8]),(75,[-4.5,-5.5,-7]),(76,[-5,-6.8]),(77,[-5,-7.5])]),
 ("715", [(74,[-5.5,-6]),(76.5,[-5,-5.8])]),
 ("137", [(78,[-5.5,-6.5,-7.5]),(79,[-6,-7,-7.8,-8.3]),(80,[-6,-7,-7.5])]),
 ("715", [(81,[-5.2,-6,-7]),(83,[-5.2,-6.5]),(85,[-5,-6,-7]),(87,[-5.2,-6.3]),(89.5,[-5,-6])]),
 ("110", [(82,[-5.5]),(84,[-6]),(86,[-6]),(90.5,[-5.5,-6,-6.5,-7]),(90,[-6.5,-7])]),
 ("137", [(87.5,[-7.5,-8.5,-9]),(89.5,[-9,-10]),(91,[-9.5])]),
 ("110", [(81.7,[-10,-12,-13,-14]),(84.5,[-10.5]),(89.5,[-10.8,-11.3])]),
 ("137", [(82,[-12.7,-13.2])]),
 ("715", [(73,[-14.6])]),
 ("137", [(83.4,[-1]),(87.6,[-2.2])]),
 ("715", [(89,[-3.7])]),
]
L1914 = [(15.7,-13.5),(15.7,-25.5),None,(73,-7),(73,-14.6),None,(83.4,-1.5),(83.4,-4.5),None,(87.6,-2.5),(87.6,-5)]

P1915 = [
 ("137", [(23.4,[-16.3])]),
 ("715+110", [(23.4,[-25,-25.5]),(24.5,[-25.5])]),
 ("715", [(27.8,[-14.3])]),
 ("715", [(26.8,[-24.5,-25.2])]),
 ("110", [(26.8,[-23,-25,-25.5]),(26,[-25.5])]),
]
L1915 = [(23.4,-16.5),(23.4,-25),None,(27.8,-14.5),(26.8,-23)]

P1916 = [
 ("715+110", [(23.4,[-25.5])]),
 ("715", [(26,[-21,-23,-24,-25,-25.5]),(27,[-20,-21,-22,-23,-24,-25,-25.5]),(28,[-21,-22,-23,-24,-25,-25.5])]),
 ("110", [(28,[-7.7,-9.3,-11,-12,-13,-14,-15,-16,-17,-18,-19,-20,-22.5]),(28.7,[-11.5,-12.5,-13.5,-14.5,-15.5,-16.5,-17.5,-18.5,-19.5]),(29.2,[-11,-12,-13,-14,-15,-16,-17,-18,-19,-20]),(29.8,[-11.5,-12.5,-13.5,-14.5,-15.5,-16.5,-17.5,-18.5]),(30.5,[-10.5,-12,-13,-14,-15,-16,-18])]),
 ("137", [(29.5,[-20,-22.5,-18,-16.5,-19]),(31.5,[-8.6,-10,-16,-17,-12]),(30.5,[-15.5,-17])]),
 ("110", [(33,[-8,-10,-13,-14]),(34.5,[-7,-8,-9,-10,-11,-12,-13,-14,-15]),(36,[-5,-6,-7,-8,-11,-12,-13,-14,-15,-16,-17,-18])]),
 ("137", [(33.7,[-2.7,-11,-13]),(35.5,[-9,-12,-15]),(37,[-16,-21,-22,-23,-24]),(36.8,[-8,-13])]),
 ("110", [(36.8,[-20.3])]),
 ("715", [(37.5,[-3,-5,-6,-7,-8,-9,-10,-11,-12])]),
 ("110", [(37.3,[-4,-5.3,-10,-14])]),
 ("137", [(39,[-9,-10,-12,-13,-15,-15.5,-16]),(41,[-11,-12,-13,-14,-15])]),
 ("110", [(41.4,[-2.5,-4.5,-7.5,-12]),(43.6,[-4,-12,-11])]),
 ("715", [(41.4,[-9,-12.5])]),
 ("715", [(46.5,[-4.3,-5.5,-6,-7,-8,-9,-10,-11,-12,-13,-14]),(45,[-9,-10,-11,-12,-14]),(47.5,[-6,-8,-10,-12,-13])]),
 ("110", [(47,[-6.5,-7.5,-14,-15]),(45.5,[-14.5,-15])]),
 ("137", [(47,[-9])]),
 ("137", [(58.8,[-17.6,-18,-20,-20.3])]),
 ("715", [(58.8,[-18.8,-19.5]),(61.8,[-19.3,-20,-20.5,-21])]),
 ("110", [(61.8,[-21,-22])]),
 ("137", [(65.6,[-17,-17.5,-18,-19,-20,-21,-22,-23,-24,-25]),(67,[-20,-21,-23,-25.5])]),
 ("110", [(66.5,[-22,-24,-25]),(68.5,[-22,-23,-24,-25.5]),(70,[-22,-23,-25,-25.5])]),
 ("715", [(69,[-20,-21,-22,-24]),(71,[-18,-19,-20,-21,-22,-23,-24])]),
 ("137", [(73,[-20,-21,-22,-23,-25,-25.5]),(74,[-16.5,-18,-19,-20,-21,-22]),(74.5,[-23])]),
 ("715", [(75,[-19,-20,-21,-22,-24]),(77,[-19,-20,-21,-22,-23,-24,-25.5])]),
 ("110", [(72,[-21,-23,-24,-25.5]),(75.5,[-23,-24.5]),(78.5,[-22,-23,-24,-25,-25.5]),(80,[-21,-22,-23,-24,-25.5]),(81.5,[-25.5])]),
 ("715", [(79,[-18.5,-19,-20,-21,-22]),(81.5,[-22.5,-23])]),
 ("137", [(77.5,[-25.5]),(76,[-25.5])]),
 ("110", [(89,[-16,-18,-20,-22,-23,-24,-25,-25.5]),(89.5,[-13,-22,-23,-24])]),
 ("137", [(89.5,[-15,-25,-25.5])]),
 ("715", [(88.5,[-17,-18,-19,-20,-21]),(89.7,[-11.7,-14,-17,-18,-19,-20,-21])]),
]
L1916 = [(33.7,-3),(33.7,-8),None,(41.4,-4.5),(41.4,-10),None,(47.5,-9),(58.8,-17.6),None,(82,-23),(87,-21),None,(37,-17),(36.8,-20)]

P1917 = [
 ("715", [(36,[-12])]),
 ("137+110", [(36,[-25.5]),(38,[-25.5]),(40,[-25.5]),(42,[-25.5]),(44,[-25.5]),(54,[-25.5]),(56,[-25.5]),(59,[-25.5]),(62,[-25.5]),(64,[-25.5]),(66,[-25.5])]),
 ("715+110", [(46,[-25.5]),(48,[-25.5]),(50,[-25.5]),(52,[-25.5])]),
 ("137+110", [(37,[-25.5]),(39,[-25.5]),(41,[-25.5]),(43,[-25.5]),(45,[-25.5]),(47,[-25.5]),(49,[-25.5]),(51,[-25.5]),(53,[-25.5]),(55,[-25.5]),(57,[-25.5]),(58,[-25.5]),(60,[-25.5]),(61,[-25.5]),(63,[-25.5]),(65,[-25.5]),(67,[-25.5]),(68,[-25.5]),(69,[-25.5]),(70,[-25.5]),(72,[-25.5]),(73,[-25.5]),(74,[-25.5]),(75,[-25.5]),(76,[-25.5]),(77,[-25.5]),(78,[-25.5]),(84,[-25.5]),(85,[-25.5]),(86,[-25.5]),(87,[-25.5])]),
 ("137", [(71,[-25.5])]),
 ("110", [(79.4,[-20,-21,-22,-23,-24,-25,-25.5]),(80.5,[-22,-23,-25.5]),(88,[-25.5]),(89.5,[-25.5])]),
 ("715", [(81.7,[-18,-20,-21,-22,-23,-24,-25,-25.5]),(80.8,[-23,-24,-25])]),
 ("137", [(83,[-25.5])]),
]
L1917 = [(36,-12),(36,-25.5)]

P1918 = [
 ("715", [(36.6,[-22.5])]),
 ("110", [(36.6,[-25.5])]),
 ("715", [(38.6,[-13,-14,-15,-16,-17,-18,-19,-20,-21,-22,-23,-24,-25,-25.5]),(39.5,[-11,-12,-13,-14,-15,-16,-17,-18,-19,-20,-21,-22,-24]),(40.3,[-7,-8,-9,-10,-11,-12,-13,-14,-15,-16,-17,-18,-19,-20,-21]),(41.6,[-7,-8,-9,-10,-11,-12,-13,-14,-15,-16,-17,-18,-19,-20]),(43,[-8,-10,-12,-14,-16,-18,-19]),(43.7,[-7,-11,-13,-15,-17])]),
 ("110", [(45,[-7,-8,-9,-10,-11,-12,-13]),(43.8,[-9,-10,-12]),(41,[-17,-16])]),
 ("715", [(45.3,[-12.5,-13.5]),(46,[-3,-4,-5,-6,-10])]),
 ("110", [(46,[-2.3,-3,-4,-5,-5.8]),(49.7,[-2.5,-3,-3.5,-4,-8,-9,-10,-11,-12,-13,-14])]),
 ("715", [(49,[-5,-6,-7,-9,-11,-14,-15,-16,-17,-18,-19]),(50,[-6,-8,-10,-12,-15,-16,-17,-18,-18.5])]),
 ("110", [(48,[-17.8]),(47.5,[-3.5,-5])]),
]
L1918 = [(36.6,-22.5),(36.6,-25.5),None,(47.8,-7),(48,-17)]

P1919 = [
 ("715", [(36.6,[-22.5])]),
 ("110", [(36.6,[-25.5]),(38,[-25.5])]),
 ("715", [(39,[-21,-22,-23,-24,-25,-25.5]),(40,[-19.5,-20,-21,-22,-23]),(41,[-16,-17,-18,-19,-20,-21,-22]),(41.7,[-5,-6,-8,-9,-10,-11,-12,-13,-14,-15,-16,-17,-18,-19,-20,-21]),(42.6,[-3.5,-4,-5,-6,-7,-9,-10,-11,-12,-13,-14,-15,-16,-17,-18,-19,-20])]),
 ("137", [(41.7,[-14.5])]),
 ("110", [(42,[-8.5])]),
 ("713", [(43.4,[-1.2,-1.7,-2.3])]),
 ("715", [(44,[-1.3,-2]),(45,[-1.5,-2.5,-3])]),
 ("110", [(45.5,[-1.5,-2,-2.5,-3]),(47,[-2,-3]),(48,[-3])]),
 ("715", [(49.8,[-2.5,-3,-4,-4.8,-6,-14.5,-15,-16,-17,-18,-19]),(51,[-19,-19.5]),(52.5,[-19.5,-20]),(54,[-20,-21]),(55,[-21,-22,-23,-24,-25,-25.5]),(56.3,[-22,-23,-24,-25,-25.5])]),
 ("110", [(54.5,[-25.5]),(50,[-19.3])]),
 ("137", [(56,[-20,-21,-22,-23])]),
 ("110", [(56.6,[-16.5,-17,-18,-19,-20,-21]),(57.5,[-17,-18,-19.5,-20.5])]),
 ("110", [(58.7,[-8.3,-10.8,-12.3,-20.5])]),
 ("137+110", [(58,[-21.5]),(59.5,[-21.8]),(61,[-21.6]),(62.5,[-21.6]),(64,[-21.4]),(65.5,[-21.3])]),
 ("137", [(67,[-21.4]),(68.5,[-21.5]),(70,[-21.6]),(71.5,[-21.7]),(73,[-21.7]),(74.5,[-21.6]),(76,[-21.6])]),
 ("137+110", [(77.5,[-21.5]),(79,[-21.4]),(80.5,[-21.5]),(82,[-21.6]),(83.5,[-21.5]),(85,[-21.5]),(86.5,[-21.5])]),
 ("110", [(88,[-21.5]),(89.5,[-21.5]),(90.5,[-21.5])]),
]
L1919 = [(36.6,-23),(36.6,-25.5),None,(49.8,-6),(49.8,-14.5),None,(58.7,-12.3),(58.7,-20.5)]

PANELS = [P1904,P1905,P1906,P1907,P1908,P1909,P1910,P1911,P1912,P1913,P1914,P1915,P1916,P1917,P1918,P1919]
LINES = [L1904,L1905,L1906,L1907,L1908,L1909,L1910,L1911,L1912,L1913,L1914,L1915,L1916,L1917,L1918,L1919]

W, H = 1228, 932
COL_L = [88, 375, 659, 945]
COL_R = [364, 650, 935, 1220]
ROW_STRIP = [70, 280, 490, 701]
ROW_TOP = [108, 318, 528, 739]
ROW_BOT = [269, 480, 690, 901]
FONT = "Liberation Sans"
FS = 23
DOT = 8
def fx(p): return p / W
def fy(p): return 1 - p / H

fig = go.Figure()
layout = {}
shapes = []
annotations = []

for i, year in enumerate(YEARS):
    r, c = divmod(i, 4)
    n = "" if i == 0 else str(i + 1)
    xa, ya = "x" + n, "y" + n
    layout["xaxis" + n] = dict(
        domain=[fx(COL_L[c]), fx(COL_R[c])], anchor=ya, range=[-7, 94.1],
        tickmode="array", tickvals=MONTH_TICKS, ticktext=MONTH_LABELS,
        showticklabels=r == 3, ticks="outside" if r == 3 else "", ticklen=4, tickcolor="#333333",
        ticklabelstandoff=-6,
        tickfont=dict(family=FONT, size=FS, color="#4D4D4D"),
        showgrid=True, gridcolor="white", gridwidth=1.5, zeroline=False,
        minor=dict(tickvals=MONTH_MINOR, showgrid=True, gridcolor="white", gridwidth=0.7, ticks=""),
        showline=True, mirror=True, linecolor="#333333", linewidth=1.2)
    layout["yaxis" + n] = dict(
        domain=[fy(ROW_BOT[r]), fy(ROW_TOP[r])], anchor=xa, range=[-26.8, 1.2],
        tickmode="array", tickvals=DEPTH_TICKS, ticktext=[str(v) for v in DEPTH_TICKS],
        showticklabels=c == 0, ticks="outside" if c == 0 else "", ticklen=4, tickcolor="#333333",
        tickfont=dict(family=FONT, size=FS, color="#4D4D4D"),
        showgrid=True, gridcolor="white", gridwidth=1.5, zeroline=False,
        minor=dict(tickvals=DEPTH_MINOR, showgrid=True, gridcolor="white", gridwidth=0.7, ticks=""),
        showline=True, mirror=True, linecolor="#333333", linewidth=1.2)
    shapes.append(dict(type="rect", xref="paper", yref="paper", x0=fx(COL_L[c]), x1=fx(COL_R[c]),
                       y0=fy(ROW_TOP[r]), y1=fy(ROW_STRIP[r]), fillcolor="#D9D9D9",
                       line=dict(color="#333333", width=1.2), layer="above"))
    annotations.append(dict(text=str(year), xref="paper", yref="paper", showarrow=False,
                            x=fx((COL_L[c] + COL_R[c]) / 2), y=fy((ROW_STRIP[r] + ROW_TOP[r]) / 2),
                            xanchor="center", yanchor="middle",
                            font=dict(family=FONT, size=FS, color="#1A1A1A")))

    lx = [None if p is None else p[0] for p in LINES[i]]
    ly = [None if p is None else p[1] for p in LINES[i]]
    fig.add_trace(go.Scatter(x=lx, y=ly, mode="lines", xaxis=xa, yaxis=ya, showlegend=False, hoverinfo="skip",
                             line=dict(color="#BEBEBE", width=1.2, dash="6px,6px")))
    for recv, columns in PANELS[i]:
        xs, ys = [], []
        for day, depths in columns:
            xs += [day] * len(depths)
            ys += depths
        codes = recv.split("+")
        for k, code in enumerate(codes):
            fig.add_trace(go.Scatter(x=xs, y=ys, mode="markers", xaxis=xa, yaxis=ya, showlegend=False,
                                     name=code, marker=dict(size=DOT, color=COLORS[code],
                                                            opacity=0.6 if k else 0.8)))

KEY_X = [525, 624, 724, 823]
for kx in KEY_X:
    shapes.append(dict(type="rect", xref="paper", yref="paper", x0=fx(kx), x1=fx(kx + 30),
                       y0=fy(41), y1=fy(11), fillcolor="#F2F2F2", line=dict(width=0), layer="below"))

for code in RECEIVERS:
    fig.add_trace(go.Scatter(x=[None], y=[None], mode="markers", name=code, showlegend=True,
                             marker=dict(size=7, color=COLORS[code], opacity=0.8)))

annotations.append(dict(text="<b>Dyp (m)</b>", xref="paper", yref="paper", showarrow=False, textangle=-90,
                        x=fx(26), y=fy(504), xanchor="center", yanchor="middle",
                        font=dict(family=FONT, size=28, color="black")))
annotations.append(dict(text="Mottaker:", xref="paper", yref="paper", showarrow=False,
                        x=fx(401), y=fy(27), xanchor="left", yanchor="middle",
                        font=dict(family=FONT, size=24, color="black")))

fig.update_layout(
    width=W, height=H, margin=dict(l=0, r=0, t=0, b=0, autoexpand=False), paper_bgcolor="white", plot_bgcolor="#EBEBEB",
    shapes=shapes, annotations=annotations, showlegend=True,
    legend=dict(orientation="h", x=fx(512), y=fy(27), xanchor="left", yanchor="middle",
                font=dict(family=FONT, size=24, color="black"), bgcolor="rgba(0,0,0,0)",
                itemwidth=48, entrywidth=36, entrywidthmode="pixels", itemclick=False, itemdoubleclick=False),
    **layout)

fig.write_html("out.html", config={"displayModeBar": False},
               post_script="document.body.style.margin='0';document.body.style.overflow='hidden';")
